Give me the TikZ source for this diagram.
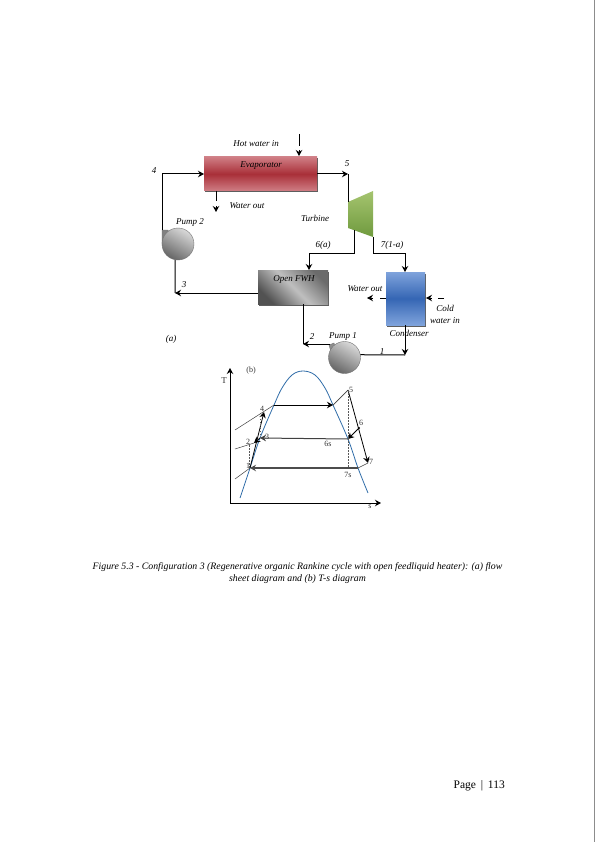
\documentclass[tikz,border=0pt]{standalone}
\usepackage{fontspec}
\setmainfont{Liberation Serif}
\usetikzlibrary{arrows.meta,shadows}
\definecolor{domeblue}{HTML}{2F6CA8}
\definecolor{evaplight}{HTML}{CF7E85}
\definecolor{evapdark}{HTML}{A92F38}
\definecolor{condlight}{HTML}{7FA3DC}
\definecolor{conddark}{HTML}{3566B4}
\definecolor{turblight}{HTML}{A5C46F}
\definecolor{turbdark}{HTML}{6F9A3E}
\tikzset{
  unit/.style={shade,inner sep=0pt,outer sep=0pt,draw=none,drop shadow={shadow xshift=1pt,shadow yshift=-1.5pt,fill=black!70,opacity=.9}},
  pump/.style={circle,shade,top color=black!15,bottom color=black!60,shading angle=-30,draw=black!55,line width=.4pt,minimum size=32pt,inner sep=0pt,outer sep=0pt},
  flow/.style={->,line width=1pt},
  pipe/.style={line width=1pt},
  lab/.style={font=\itshape\fontsize{9}{10.5}\selectfont,inner sep=0pt},
  tslab/.style={font=\fontsize{8}{9}\selectfont,inner sep=0pt,text=black!80},
  tsline/.style={line width=.5pt,black!75},
  tsdash/.style={line width=.5pt,black!65,dash pattern=on 1.5pt off 1.5pt},
  tsflow/.style={->,line width=.8pt}
}
\begin{document}
\begin{tikzpicture}[x=1pt,y=-1pt,>={Stealth[length=6pt,width=6.5pt]}]
\useasboundingbox (0,0) rectangle (595,842);
\draw[black!45,line width=.6pt] (594.5,0) -- (594.5,842);
% flow sheet
\node[unit,top color=evaplight,bottom color=evaplight,middle color=evapdark,minimum width=113pt,minimum height=34pt] (evap) at (260.5,174) {};
\node[lab] (evaplab) at (261,166) {Evaporator};
\node[unit,top color=black!58,bottom color=black!68,middle color=black!25,shading angle=-45,minimum width=70pt,minimum height=34pt] (fwh) at (293,287) {};
\node[lab] (fwhlab) at (294,279) {Open FWH};
\node[unit,top color=condlight,bottom color=condlight,middle color=conddark,minimum width=39pt,minimum height=53pt] (cond) at (405.5,298.5) {};
\shade[top color=turblight,bottom color=turbdark] (348,202) coordinate (tin) -- (373,191) -- (373,237) coordinate (tout) -- (348,228) -- cycle;
\filldraw[black!50,draw=black!55,line width=.4pt] (162,230) -- (168,230) -- (169,233) -- (174,236) -- (162,244) -- cycle;
\node[pump] (pumpb) at (178,244) {};
\filldraw[black!45,draw=black!55,line width=.4pt] (329,345) -- (334,343) -- (336,350) -- (331,352) -- cycle;
\node[pump] (pumpa) at (344.5,357.5) {};
\coordinate (c4) at (162,174);
\coordinate (c3) at (175,293);
\coordinate (c5) at (348,174);
\coordinate (c6) at (354,253);
\coordinate (c6b) at (309,253);
\coordinate (c7) at (405,253);
\coordinate (c2) at (303,344);
\coordinate (c1) at (405,355);
\coordinate (hotin) at (299,134);
\coordinate (hotend) at (299,156);
\coordinate (wstart) at (216,191);
\coordinate (wend) at (216,212);
\coordinate (coldin) at (444,298);
\coordinate (coldend) at (426,298);
\coordinate (cwout) at (386,298);
\coordinate (cwend) at (367,298);
\draw[flow] (162,230) -- (c4) -- (evap.west |- c4);
\draw[pipe] (pumpb.260) -- (c3);
\draw[flow] (fwh.west |- c3) -- (c3);
\draw[flow] (evap.east) -- (c5);
\draw[pipe] (c5) -- (tin);
\draw[flow] (354,230) -- (c6) -- (c6b) -- (c6b |- fwh.north);
\draw[flow] (tout) -- (373,253) -- (c7) -- (cond.north -| c7);
\draw[pipe] (303,304) -- (c2);
\draw[flow] (330,344) -- (c2);
\draw[pipe] (pumpa.10) -- (c1);
\draw[flow] (cond.south -| c1) -- (c1);
\draw[flow,dash pattern=on 12pt off 4pt] (hotin) -- (hotend);
\draw[flow,dash pattern=on 10pt off 5pt] (wstart) -- (wend);
\draw[flow,dash pattern=on 6pt off 6pt] (coldin) -- (coldend);
\draw[flow,dash pattern=on 6pt off 7pt] (cwout) -- (cwend);
\node[lab] (hotlab) at (256,144) {Hot water in};
\node[lab] (wlab) at (247,206) {Water out};
\node[lab] (n4) at (154,171) {4};
\node[lab] (pblab) at (190,222) {Pump 2};
\node[lab] (n3) at (184,285) {3};
\node[lab] (alab) at (171,339) {(a)};
\node[lab] (n5) at (347,164) {5};
\node[lab] (turblab) at (315,218) {Turbine};
\node[lab] (n6) at (323,245) {6(a)};
\node[lab] (n7) at (392,245) {7(1-a)};
\node[lab] (cwlab) at (365,289) {Water out};
\node[lab,align=center] (coldlab) at (445,314.5) {Cold\\[1pt]water in};
\node[lab] (condlab) at (409,333) {Condenser};
\node[lab] (n2) at (312,337) {2};
\node[lab] (palab) at (343,336) {Pump 1};
\node[lab] (n1) at (382,352) {1};
% T-s diagram
\coordinate (orig) at (230,503);
\coordinate (tend) at (230,368);
\coordinate (send) at (381,503);
\draw[flow] (orig) -- (tend);
\draw[flow] (orig) -- (send);
\draw[domeblue,line width=.8pt] plot[smooth,tension=.6] coordinates {(240,498) (250,468) (260,438) (274,405) (282,388) (292,375) (303,371) (315,375) (325,388) (333,405) (348,439) (358,468) (368,493)};
\coordinate (p1) at (250,468);
\coordinate (p2) at (254,443);
\coordinate (p3) at (260,438);
\coordinate (p4) at (264,412);
\coordinate (p4b) at (274,405);
\coordinate (p5a) at (333,405);
\coordinate (p5) at (348,390);
\coordinate (p6) at (359,428);
\coordinate (p6s) at (348,439);
\coordinate (p7) at (368,463);
\coordinate (p7s) at (358,468);
\draw[tsline] (235,430) -- (p4b);
\draw[tsline] (235,449) -- (p2);
\draw[tsline] (235,479) -- (p1);
\draw[tsflow] (p4b) -- (p5a);
\draw[tsline,line width=.7pt] (p5a) -- (p5);
\draw[tsflow] (p5) -- (p7);
\draw[tsflow] (p6) -- (p6s);
\fill (p6) circle (1.2pt);
\draw[tsline] (p7s) -- (p7);
\draw[tsflow,line width=1pt,black!75] (p6s) -- (p3);
\draw[tsflow,line width=1.2pt,black!70] (p7s) -- (p1);
\draw[tsflow] (p1) -- (p4);
\draw[tsflow] (p3) -- (p2);
\draw[tsdash] (p5) -- (348,468);
\draw[tsdash] (p3) -- (260,412);
\draw[tsdash] (249,445) -- (249,468);
\node[tslab,font=\fontsize{9}{10}\selectfont] (tlab) at (224,381) {T};
\node[tslab] (blab) at (251,371) {(b)};
\node[tslab] (slab) at (370,507) {s};
\node[tslab] (s1) at (248,466) {1};
\node[tslab] (s2) at (248,442) {2};
\node[tslab] (s3) at (267,437) {3};
\node[tslab] (s4) at (262,409) {4};
\node[tslab] (s5) at (351,390) {5};
\node[tslab] (s6) at (361,423) {6};
\node[tslab] (s7) at (371,462) {7};
\node[tslab] (s6s) at (328,444) {6s};
\node[tslab] (s7s) at (348,475) {7s};
% caption and page number
\node[font=\itshape\fontsize{9.8}{11.5}\selectfont,align=center,inner sep=0pt] (caption) at (297.5,573) {Figure 5.3 - Configuration 3 (Regenerative organic Rankine cycle with open feedliquid heater): (a) flow\\sheet diagram and (b) T-s diagram};
\node[font=\fontsize{11.5}{13}\selectfont,inner sep=0pt,anchor=east] (page) at (505,786) {Page \,|\, 113};
\end{tikzpicture}
\end{document}
